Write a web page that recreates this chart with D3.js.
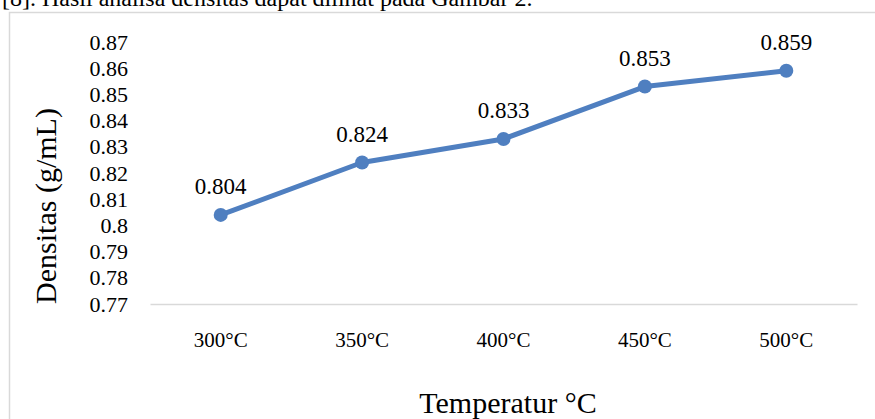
<!DOCTYPE html>
<html>
<head>
<meta charset="utf-8">
<script src="https://cdn.jsdelivr.net/npm/d3@7"></script>
<style>
  body { margin: 0; background: #fff; }
  text { font-family: "Liberation Serif", "Times New Roman", serif; fill: #000; }
</style>
</head>
<body>
<div id="chart"></div>
<script>
// densitas vs temperatur
const categories = ["300°C", "350°C", "400°C", "450°C", "500°C"];
const densitas = [0.804, 0.824, 0.833, 0.853, 0.859];
const yTicks = [0.77, 0.78, 0.79, 0.8, 0.81, 0.82, 0.83, 0.84, 0.85, 0.86, 0.87];

const width = 875, height = 419;

const svg = d3.select("#chart")
    .append("svg")
    .attr("width", width)
    .attr("height", height);

// cut-off caption line from the page above the figure
svg.append("text")
    .attr("x", 2)
    .attr("y", 6)
    .style("font-size", "24px")
    .text("[8]. Hasil analisa densitas dapat dilihat pada Gambar 2.");

// figure frame
svg.append("path")
    .attr("d", "M9.5," + height + "V12.5H" + width)
    .attr("fill", "none")
    .attr("stroke", "#d9d9d9")
    .attr("stroke-width", 1.5);

var x = d3.scaleBand()
    .domain(categories)
    .range([150, 857]);

var y = d3.scaleLinear()
    .domain([0.77, 0.87])
    .range([304, 42]);

// x axis
var xAxis = svg.append("g")
    .attr("transform", "translate(0," + y(0.77) + ")")
    .call(d3.axisBottom(x).tickSizeInner(0).tickSizeOuter(0).tickPadding(28));
xAxis.select(".domain").attr("stroke", "#d9d9d9").attr("stroke-width", 1.5);
xAxis.selectAll("text")
    .style("font-family", "Liberation Serif")
    .style("font-size", "21px");

// y axis (no line, only labels)
var yAxis = svg.append("g")
    .attr("transform", "translate(128,0)")
    .call(d3.axisLeft(y).tickValues(yTicks).tickFormat(d => String(+d.toFixed(2)))
        .tickSizeInner(0).tickSizeOuter(0).tickPadding(0));
yAxis.select(".domain").remove();
yAxis.selectAll("text")
    .style("font-family", "Liberation Serif")
    .style("font-size", "22px");

var cx = function(d, i) { return x(categories[i]) + x.bandwidth() / 2; };

// line
svg.append("path")
    .datum(densitas)
    .attr("fill", "none")
    .attr("stroke", "#4f7fc0")
    .attr("stroke-width", 5)
    .attr("stroke-linejoin", "round")
    .attr("d", d3.line().x(cx).y(d => y(d)));

// markers
svg.selectAll(".dot")
    .data(densitas)
    .enter().append("circle")
    .attr("class", "dot")
    .attr("cx", cx)
    .attr("cy", d => y(d))
    .attr("r", 7)
    .attr("fill", "#4f7fc0");

// data labels
svg.selectAll(".lbl")
    .data(densitas)
    .enter().append("text")
    .attr("class", "lbl")
    .attr("x", cx)
    .attr("y", d => y(d) - 21)
    .attr("text-anchor", "middle")
    .style("font-size", "23px")
    .text(d => d.toFixed(3));

// axis titles
svg.append("text")
    .attr("transform", "translate(56,206) rotate(-90)")
    .attr("text-anchor", "middle")
    .style("font-size", "30px")
    .text("Densitas (g/mL)");

svg.append("text")
    .attr("x", 508)
    .attr("y", 413)
    .attr("text-anchor", "middle")
    .style("font-size", "30px")
    .text("Temperatur °C");
</script>
</body>
</html>
